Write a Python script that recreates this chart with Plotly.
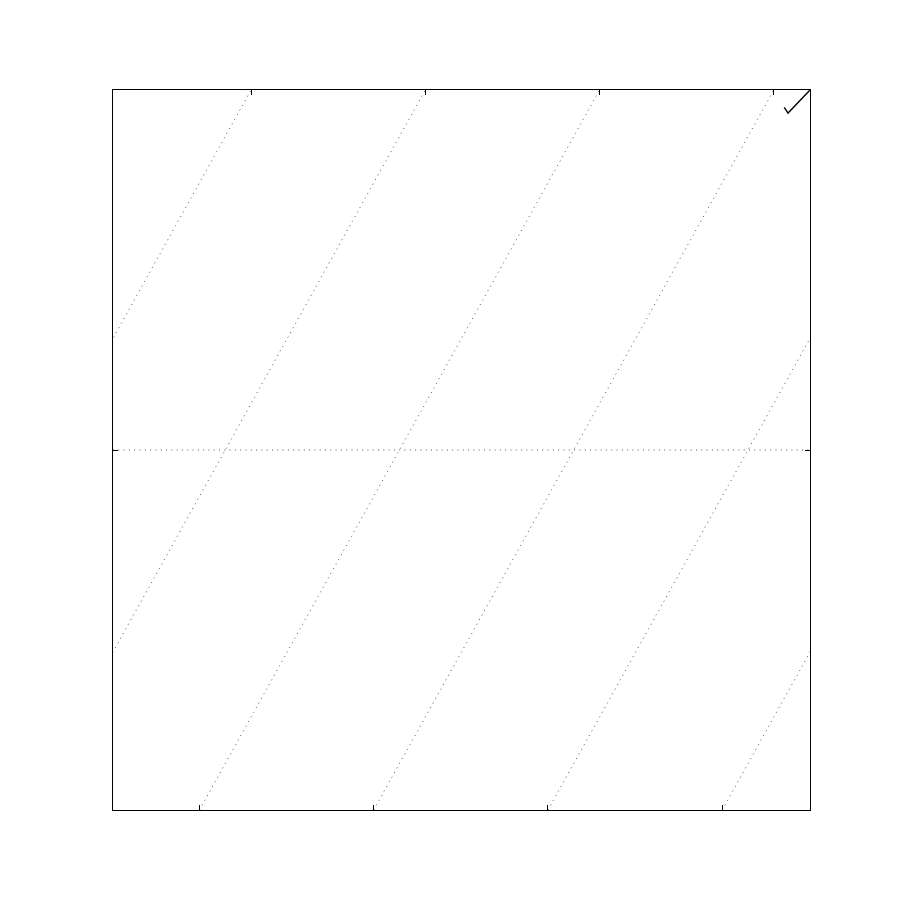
import plotly.graph_objects as go

# Axis limits (data units)
x_limits = [-50, 50]
y_limits = [-50, 50]

# Skewed isotherm grid: x = T + skew_offset + skew_slope * y
isotherms = [-125, -100, -75, -50, -25, 0, 25, 50, 75, 100]
skew_slope = 0.574
skew_offset = 16.1

# Horizontal grid value
y_grid = [0]

# Black line segment in the upper-right corner
line_x = [46.3, 46.85, 50.3]
line_y = [47.6, 46.8, 50.3]

fig = go.Figure()

grid_style = dict(color="#555555", width=1, dash="1px,4.3px")

for T in isotherms:
    xs = [T + skew_offset + skew_slope * y for y in y_limits]
    fig.add_trace(go.Scatter(x=xs, y=y_limits, mode="lines", line=grid_style,
                             hoverinfo="skip", showlegend=False))

for yv in y_grid:
    fig.add_trace(go.Scatter(x=x_limits, y=[yv, yv], mode="lines", line=grid_style,
                             xaxis="x2", hoverinfo="skip", showlegend=False))

fig.add_trace(go.Scatter(x=line_x, y=line_y, mode="lines",
                         line=dict(color="black", width=1.4), showlegend=False))

bottom_ticks = [T + skew_offset + skew_slope * y_limits[0] for T in isotherms]
bottom_ticks = [v for v in bottom_ticks if x_limits[0] < v < x_limits[1]]
top_ticks = [T + skew_offset + skew_slope * y_limits[1] for T in isotherms]
top_ticks = [v for v in top_ticks if x_limits[0] < v < x_limits[1]]

tick_common = dict(ticks="inside", ticklen=5, tickwidth=1, tickcolor="black",
                   showticklabels=False, showgrid=False, zeroline=False)

fig.update_layout(
    width=900, height=900,
    margin=dict(l=105, r=98, t=82, b=98),
    plot_bgcolor="white", paper_bgcolor="white",
    xaxis=dict(range=x_limits, tickmode="array", tickvals=bottom_ticks,
               showline=True, linecolor="black", linewidth=1, mirror=True,
               **tick_common),
    xaxis2=dict(range=x_limits, overlaying="x", side="top", tickmode="array",
                tickvals=top_ticks, showline=False, **tick_common),
    yaxis=dict(range=y_limits, tickmode="array", tickvals=y_grid,
               showline=True, linecolor="black", linewidth=1, mirror="ticks",
               **tick_common),
)

fig.write_html("out.html")
